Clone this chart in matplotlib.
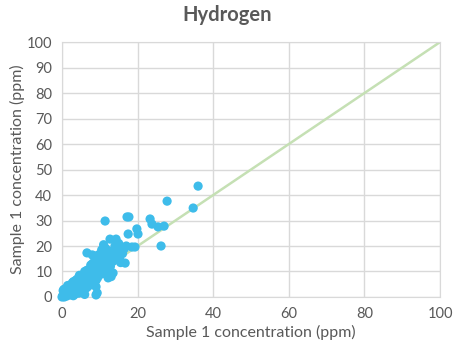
import matplotlib.pyplot as plt

# sample 1 vs sample 2 hydrogen concentrations (ppm)
x_ppm = [
    0.0, 0.2, 0.4, 0.5, 0.8, 1.0, 1.2, 0.3, 0.6, 1.5, 1.8, 2.0, 0.9, 1.3,
    2.2, 2.5, 2.8, 3.0, 1.6, 2.4, 3.2, 3.5, 3.8, 4.0, 2.7, 3.3, 4.2, 4.5,
    4.8, 5.0, 3.6, 4.4, 5.2, 5.5, 5.8, 6.0, 4.6, 5.4, 6.2, 6.5, 6.8, 7.0,
    5.6, 6.4, 7.2, 7.5, 7.8, 8.0, 6.6, 7.4, 8.2, 8.5, 8.8, 9.0, 7.6, 8.4,
    9.2, 9.5, 9.8, 10.0, 8.6, 9.4, 10.2, 10.5, 10.8, 11.0, 9.6, 10.4, 11.2,
    11.5, 11.8, 12.0, 10.6, 11.4, 12.2, 12.5, 12.8, 13.0, 11.6, 12.4, 13.2,
    13.5, 13.8, 14.0, 14.5, 15.0, 15.5, 16.0, 16.5, 17.0, 2.0, 3.0, 4.0,
    5.0, 6.0, 7.0, 8.0, 9.0, 10.0, 11.0, 12.0, 13.0, 14.0, 1.0, 2.5, 3.5,
    4.5, 5.5, 6.5, 7.5, 8.5, 9.5, 10.5, 11.5, 12.5, 13.5, 14.5, 15.5, 3.0,
    5.0, 7.0, 9.0, 4.0, 6.0, 8.0, 10.0, 12.0, 14.0, 15.0, 16.0,
    6.6, 12.7, 14.3, 16.7, 13.5, 12.2, 9.3, 9.0, 11.4, 17.2, 17.7, 23.3,
    23.8, 25.4, 27.0, 26.2, 19.8, 20.1, 17.5, 18.5, 19.3, 27.8, 34.7, 36.0,
    10.5, 8.0, 9.0, 13.0, 15.5, 3.0, 6.0, 1.5, 0.5, 11.0,
]
y_ppm = [
    0.0, 0.5, 1.0, 0.2, 1.5, 0.8, 2.0, 2.5, 0.0, 1.0, 2.5, 3.0, 3.2, 0.4,
    1.5, 3.5, 2.0, 4.5, 4.0, 0.8, 3.0, 5.0, 2.5, 4.0, 5.5, 1.0, 6.0, 3.0,
    5.5, 7.0, 6.5, 1.5, 4.5, 8.0, 6.0, 5.0, 8.5, 2.5, 9.0, 6.5, 4.0, 10.0,
    7.0, 3.5, 8.0, 11.0, 6.0, 9.5, 10.5, 5.0, 12.0, 7.5, 10.0, 8.5, 12.5,
    6.0, 11.0, 13.0, 9.0, 14.0, 14.0, 7.5, 11.5, 15.5, 10.0, 13.0, 16.5,
    9.0, 14.5, 12.0, 16.0, 11.0, 18.0, 15.0, 13.5, 17.0, 12.0, 15.5, 19.0,
    10.5, 18.0, 14.0, 17.0, 16.0, 19.5, 15.5, 18.0, 17.0, 19.0, 20.0, 2.0,
    3.5, 5.0, 6.5, 8.0, 9.0, 10.5, 12.0, 13.0, 14.0, 16.0, 17.5, 18.5, 1.5,
    2.5, 4.5, 5.5, 7.0, 8.5, 9.5, 11.0, 12.5, 12.0, 13.5, 14.5, 16.0, 17.0,
    14.0, 0.5, 2.5, 4.5, 6.5, 7.0, 10.0, 13.0, 15.0, 17.0, 20.0, 21.0, 18.5,
    17.3, 22.7, 22.7, 13.3, 9.4, 7.5, 1.6, 0.8, 29.8, 31.4, 31.4, 30.6,
    28.6, 27.5, 27.8, 20.0, 26.7, 24.7, 24.7, 19.6, 19.6, 37.6, 34.9, 43.5,
    18.5, 16.5, 4.0, 8.0, 13.5, 6.0, 1.0, 4.5, 3.0, 20.5,
]
line_ppm = [0, 100]

text_gray = '#595959'
plt.rcParams['font.family'] = ['Lato', 'DejaVu Sans']

fig = plt.figure(figsize=(4.54, 3.48), dpi=100)
ax = fig.add_axes([0.1366, 0.1466, 0.8326, 0.7324])

ax.plot(line_ppm, line_ppm, color='#c5e0b4', lw=1.8, zorder=2)
ax.scatter(x_ppm, y_ppm, s=44, color='#3ebcea', edgecolors='none', zorder=3,
           clip_on=False)

ax.set_xlim(0, 100)
ax.set_ylim(0, 100)
ax.set_xticks(range(0, 101, 20))
ax.set_yticks(range(0, 101, 10))
ax.grid(True, color='#d9d9d9', lw=1.0, zorder=0)
ax.set_axisbelow(True)
for s in ax.spines.values():
    s.set_color('#d9d9d9')
ax.tick_params(length=0, colors=text_gray, labelsize=10.5, pad=7)

ax.set_xlabel('Sample 1 concentration (ppm)', color=text_gray, fontsize=11.5,
              labelpad=3)
ax.set_ylabel('Sample 1 concentration (ppm)', color=text_gray, fontsize=11.5,
              labelpad=1)
fig.suptitle('Hydrogen', x=0.5, y=0.985, color=text_gray, fontsize=14.5,
             fontweight='bold')

fig.savefig('out.png', dpi=100)
